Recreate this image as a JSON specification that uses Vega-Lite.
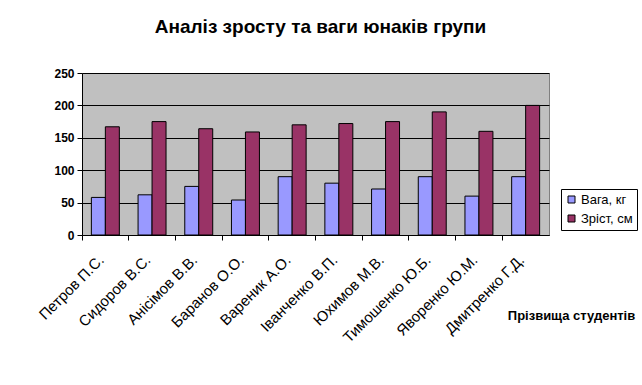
{
  "$schema": "https://vega.github.io/schema/vega-lite/v6.json",
  "autosize": "none",
  "width": 467,
  "height": 162,
  "padding": {"left": 82, "top": 73, "right": 93, "bottom": 150},
  "background": "white",
  "title": {
    "text": "Аналіз зросту та ваги юнаків групи",
    "font": "Liberation Sans",
    "fontSize": 19,
    "fontWeight": "bold",
    "color": "black",
    "anchor": "middle",
    "dx": 5,
    "baseline": "alphabetic",
    "offset": 15
  },
  "data": {
    "values": [
      {"student": "Петров П.С.", "series": "Вага, кг", "value": 58},
      {"student": "Петров П.С.", "series": "Зріст, см", "value": 167},
      {"student": "Сидоров В.С.", "series": "Вага, кг", "value": 62},
      {"student": "Сидоров В.С.", "series": "Зріст, см", "value": 175},
      {"student": "Анісімов В.В.", "series": "Вага, кг", "value": 75},
      {"student": "Анісімов В.В.", "series": "Зріст, см", "value": 164},
      {"student": "Баранов О.О.", "series": "Вага, кг", "value": 54},
      {"student": "Баранов О.О.", "series": "Зріст, см", "value": 159},
      {"student": "Вареник А.О.", "series": "Вага, кг", "value": 90},
      {"student": "Вареник А.О.", "series": "Зріст, см", "value": 170},
      {"student": "Іванченко В.П.", "series": "Вага, кг", "value": 80},
      {"student": "Іванченко В.П.", "series": "Зріст, см", "value": 172},
      {"student": "Юхимов М.В.", "series": "Вага, кг", "value": 71},
      {"student": "Юхимов М.В.", "series": "Зріст, см", "value": 175},
      {"student": "Тимошенко Ю.Б.", "series": "Вага, кг", "value": 90},
      {"student": "Тимошенко Ю.Б.", "series": "Зріст, см", "value": 190},
      {"student": "Яворенко Ю.М.", "series": "Вага, кг", "value": 60},
      {"student": "Яворенко Ю.М.", "series": "Зріст, см", "value": 160},
      {"student": "Дмитренко Г.Д.", "series": "Вага, кг", "value": 90},
      {"student": "Дмитренко Г.Д.", "series": "Зріст, см", "value": 200}
    ]
  },
  "mark": {"type": "bar", "stroke": "black", "strokeWidth": 1},
  "encoding": {
    "x": {
      "field": "student",
      "type": "nominal",
      "sort": null,
      "scale": {"paddingInner": 0, "paddingOuter": 0},
      "axis": {
        "title": "Прізвища студентів",
        "titleFont": "Liberation Sans",
        "titleFontSize": 13,
        "titleFontWeight": "bold",
        "titleColor": "black",
        "titleX": 489,
        "titleY": 80,
        "titleAlign": "center",
        "titleBaseline": "middle",
        "labelAngle": -45,
        "labelAlign": "right",
        "labelBaseline": "top",
        "labelPadding": 12,
        "labelOffset": -9,
        "labelFont": "Liberation Sans",
        "labelFontSize": 15,
        "labelColor": "black",
        "labelOverlap": false,
        "labelBound": false,
        "bandPosition": 0,
        "tickSize": 5,
        "tickColor": "black",
        "domainColor": "black",
        "grid": false
      }
    },
    "xOffset": {
      "field": "series",
      "type": "nominal",
      "scale": {"paddingInner": 0, "paddingOuter": 0.67}
    },
    "y": {
      "field": "value",
      "type": "quantitative",
      "scale": {"domain": [0, 250], "nice": false},
      "axis": {
        "title": null,
        "values": [0, 50, 100, 150, 200, 250],
        "labelFont": "Liberation Sans",
        "labelFontSize": 12,
        "labelFontWeight": "bold",
        "labelColor": "black",
        "labelPadding": 3,
        "tickSize": 5,
        "tickColor": "black",
        "domainColor": "black",
        "gridColor": "black",
        "gridOpacity": 1
      }
    },
    "color": {
      "field": "series",
      "type": "nominal",
      "scale": {"domain": ["Вага, кг", "Зріст, см"], "range": ["#9999ff", "#993366"]},
      "legend": {
        "title": null,
        "orient": "none",
        "legendX": 479,
        "legendY": 116,
        "strokeColor": "black",
        "fillColor": "white",
        "padding": 4,
        "symbolType": "square",
        "symbolSize": 49,
        "symbolStrokeColor": "black",
        "symbolStrokeWidth": 1,
        "labelFont": "Liberation Sans",
        "labelFontSize": 13,
        "labelColor": "black",
        "rowPadding": 5,
        "labelOffset": 3
      }
    }
  },
  "config": {
    "view": {"fill": "#c0c0c0", "stroke": "#808080"}
  }
}
